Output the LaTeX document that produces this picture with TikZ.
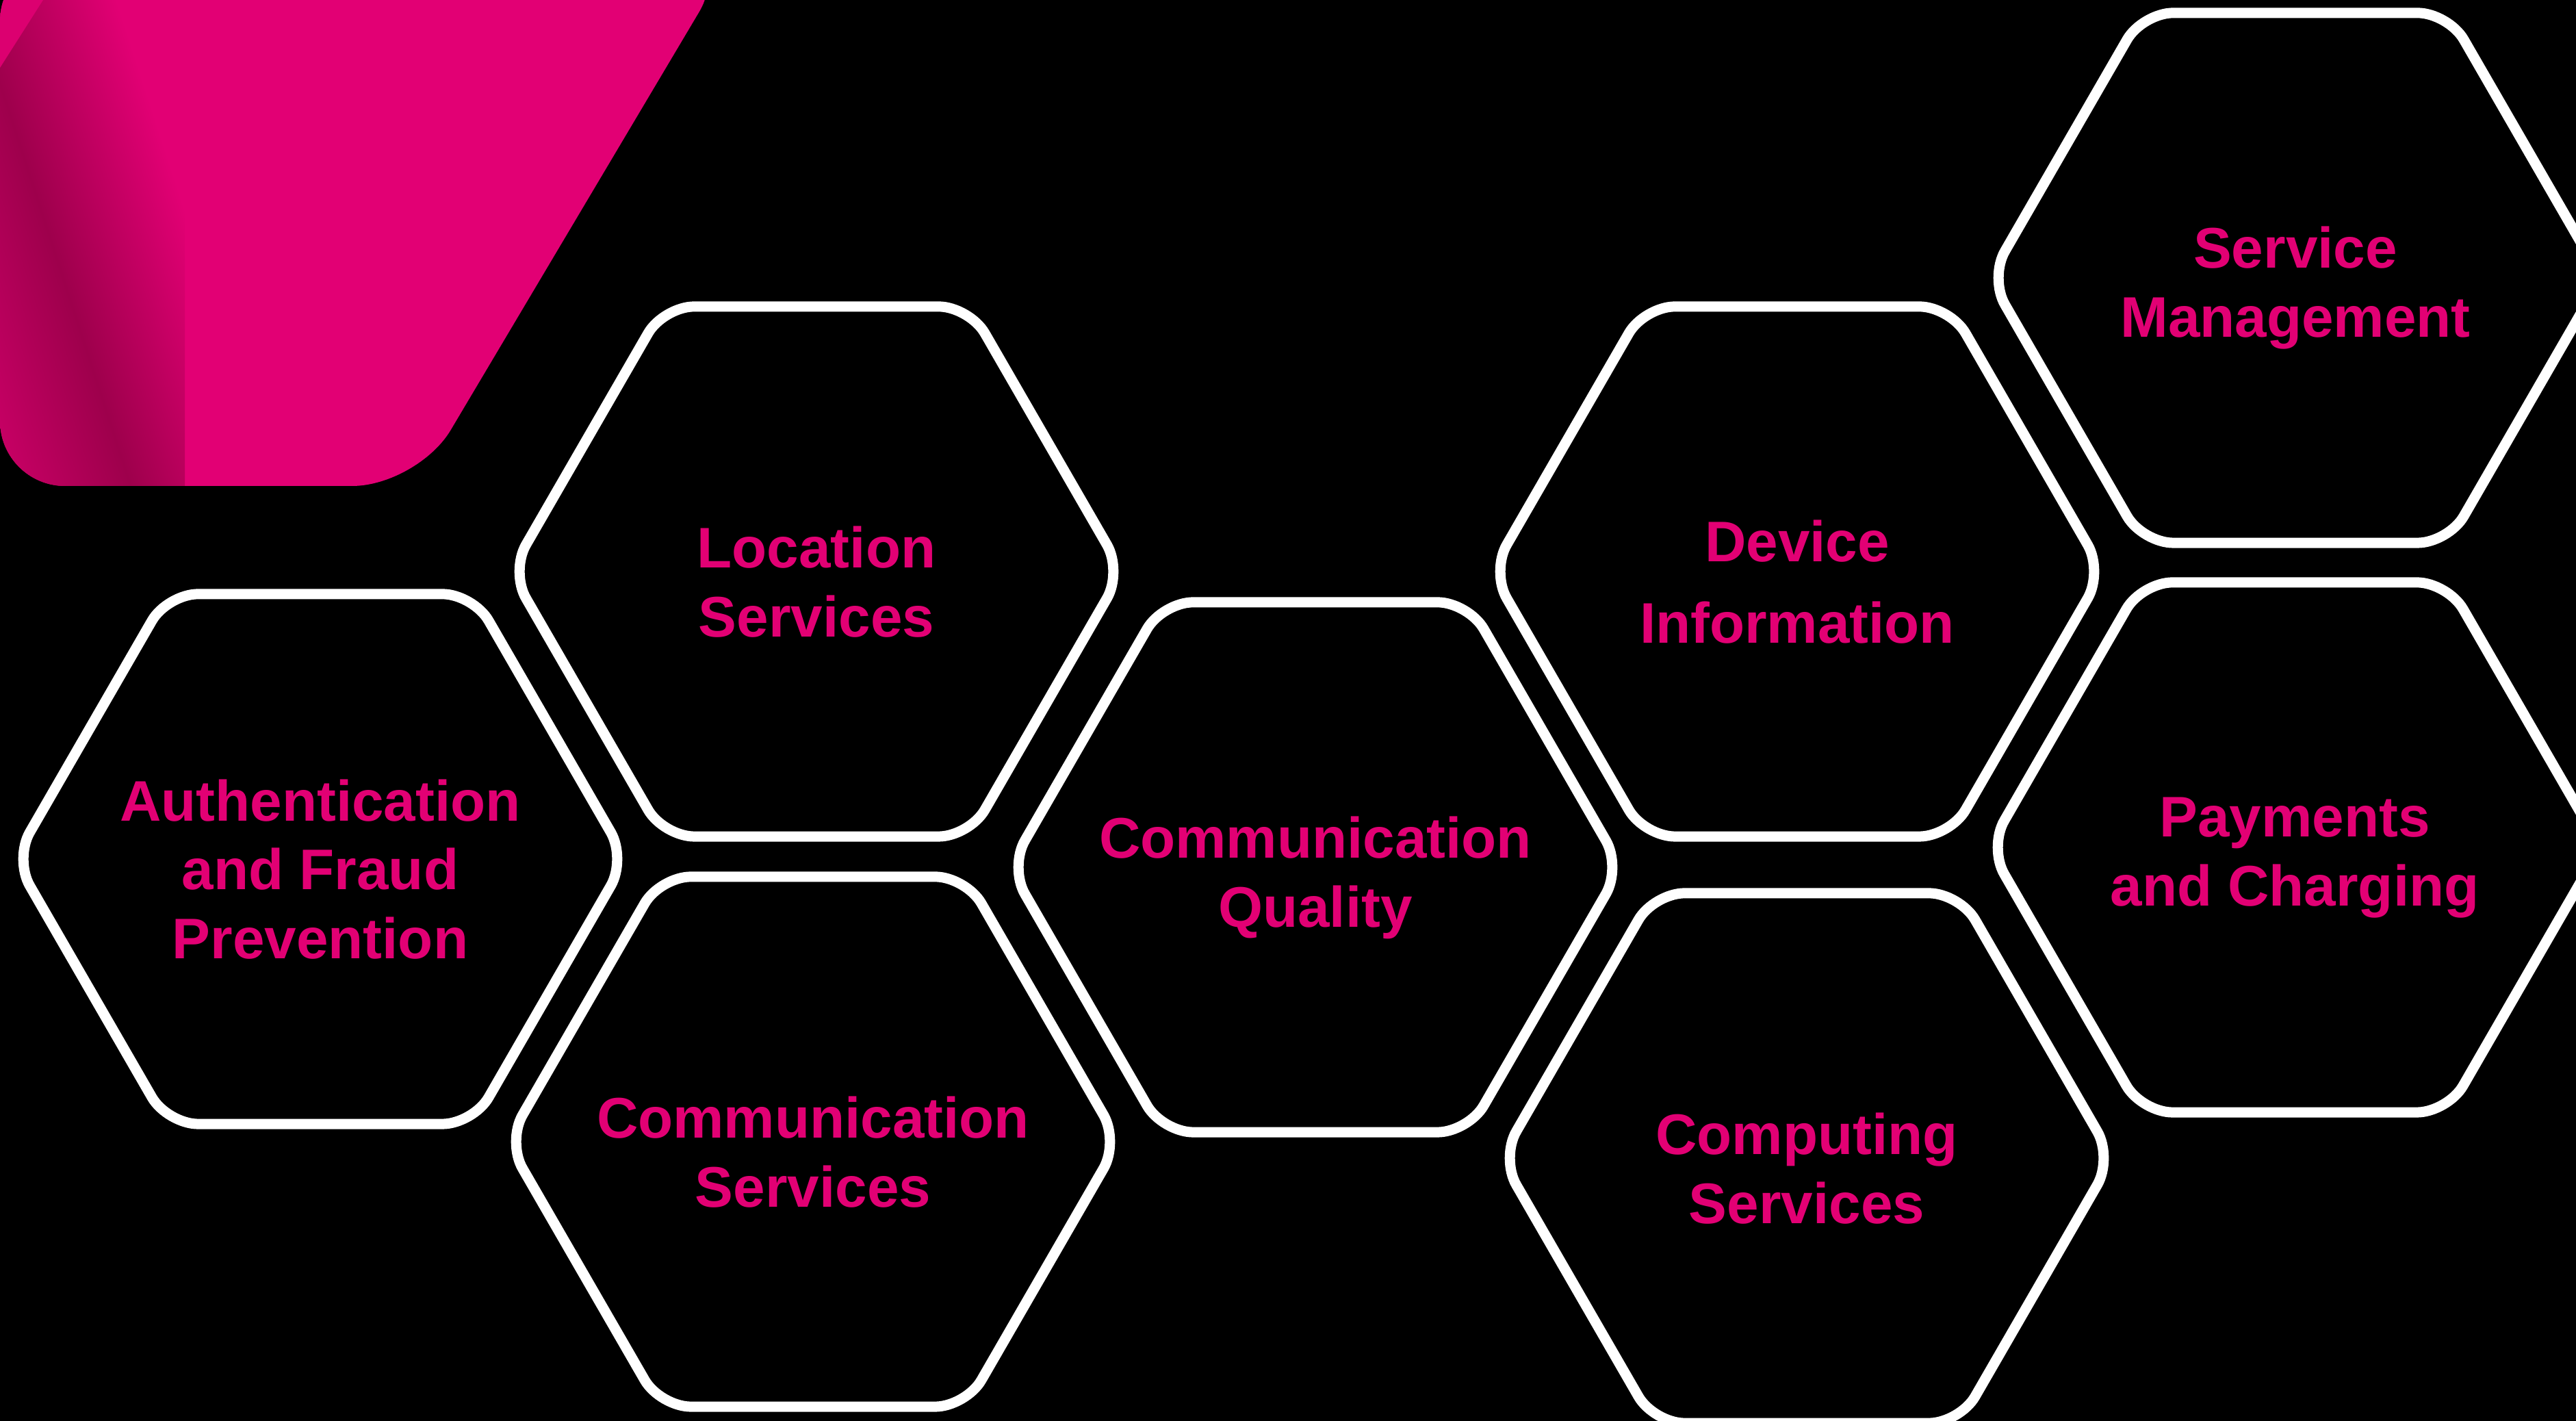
\documentclass[tikz,border=0pt]{standalone}
\usepackage{fontspec}
\setmainfont{Liberation Sans}

\definecolor{tmagenta}{HTML}{E20074}
\definecolor{tdark}{HTML}{9E004C}
\definecolor{tmid}{HTML}{D0006A}
\definecolor{tlight}{HTML}{DC0070}

\tikzset{
  hexline/.style={draw=white, line width=0.15cm, rounded corners=0.45cm},
  hexlabel/.style={text=tmagenta, align=center, yshift=-0.15cm,
    font=\fontsize{23.8}{28.7}\selectfont\bfseries}
}

\begin{document}
\begin{tikzpicture}
\fill[black] (0,0) rectangle (37.64,20.76);
\useasboundingbox (0,0) rectangle (37.64,20.76);
\clip (0,0) rectangle (37.64,20.76);

% magenta corner piece
\begin{scope}
  \clip[rounded corners=0.95cm] (0,13.66) -- (6.10,13.66) -- (10.70,21.40) -- (0,21.40) -- cycle;
  \fill[tmagenta] (0,13.66) rectangle (10.70,21.40);
  \begin{scope}
    \clip (0,13.66) rectangle (2.70,20.76);
    \shade[transform canvas={rotate around={18:(0.95,16.61)}},
      left color=tmid, right color=tmagenta, middle color=tdark]
      (-1.05,12.11) rectangle (2.95,21.11);
  \end{scope}
  \fill[tlight] (0,20.76) -- (0.63,20.76) -- (0,19.77) -- cycle;
\end{scope}

% hexagon labels
\node[hexlabel] (auth) at (4.68,8.21) {Authentication\\and Fraud\\Prevention};
\node[hexlabel] (loc) at (11.93,12.41) {Location\\Services};
\node[hexlabel] (comsrv) at (11.88,4.08) {Communication\\Services};
\node[hexlabel] (comqual) at (19.22,8.09) {Communication\\Quality};
\node[hexlabel] (device) at (26.26,12.41) {Device\\[5pt]Information};
\node[hexlabel] (compute) at (26.40,3.84) {Computing\\Services};
\node[hexlabel] (svcmgmt) at (33.54,16.70) {Service\\Management};
\node[hexlabel] (pay) at (33.53,8.38) {Payments\\and Charging};

% hexagon outlines
\foreach \n in {auth,loc,comsrv,comqual,device,compute,svcmgmt,pay}
  \draw[hexline] (\n.center) ++(4.47,0.15) -- ++(120:4.47) -- ++(180:4.47)
    -- ++(240:4.47) -- ++(300:4.47) -- ++(0:4.47) -- cycle;
\end{tikzpicture}
\end{document}
